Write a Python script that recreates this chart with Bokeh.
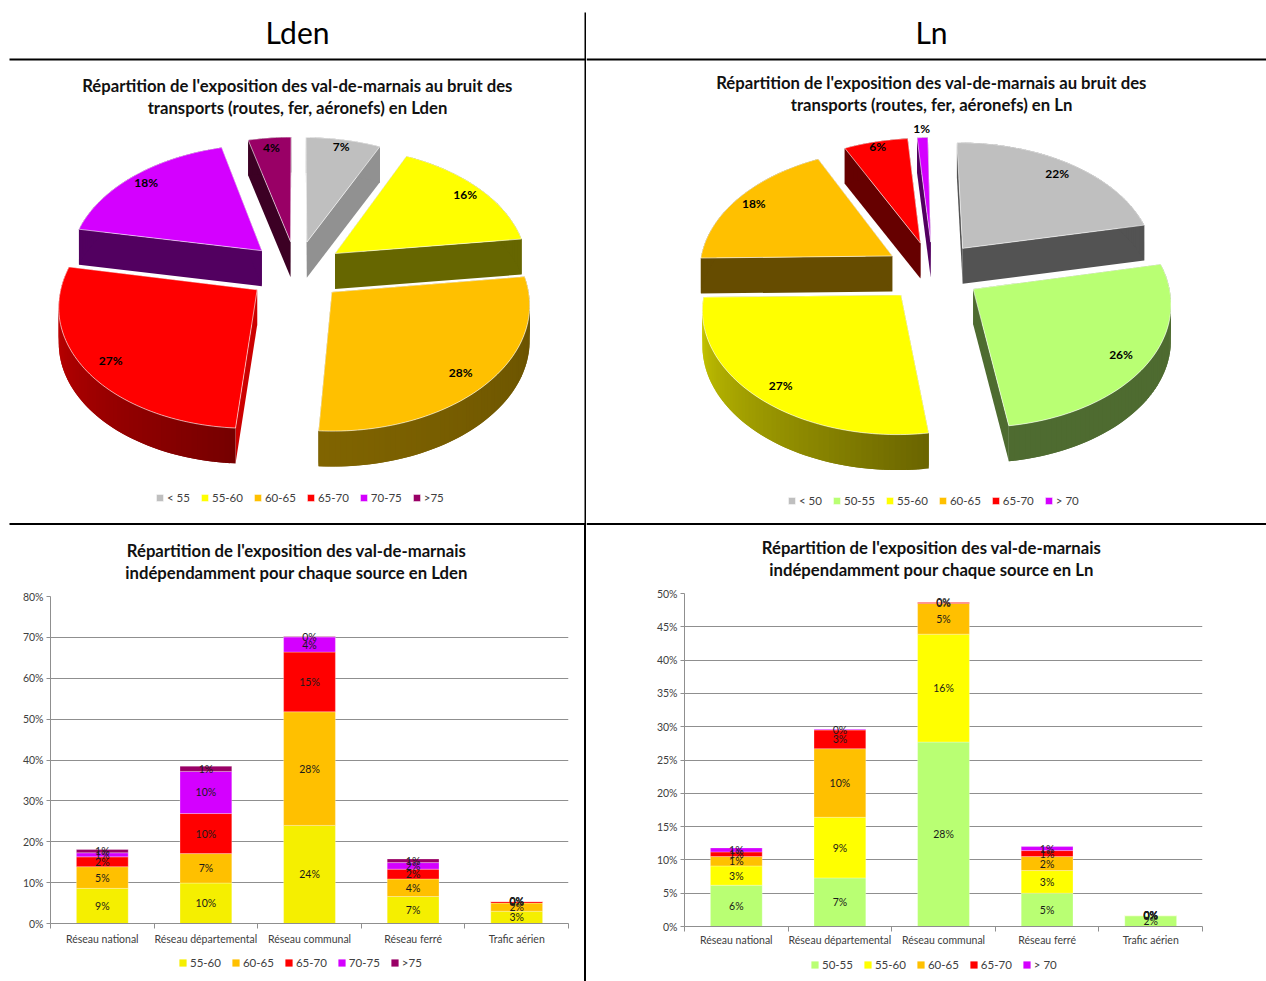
import math
import numpy as np
from bokeh.core.properties import value
from bokeh.embed import file_html
from bokeh.layouts import column, row
from bokeh.models import (Div, FixedTicker, Grid, Legend, LegendItem, LinearAxis,
                          PrintfTickFormatter, Range1d)
from bokeh.plotting import figure
from bokeh.resources import INLINE

# Pie shares, in percent
lden_pie_labels = ["< 55", "55-60", "60-65", "65-70", "70-75", ">75"]
lden_pie_values = [7, 16, 28, 27, 18, 4]
ln_pie_labels = ["< 50", "50-55", "55-60", "60-65", "65-70", "> 70"]
ln_pie_values = [22, 26, 27, 18, 6, 1]

# Stacked bars, in percent of the population
sources = ["Réseau national", "Réseau départemental", "Réseau communal", "Réseau ferré", "Trafic aérien"]
lden_55_60 = [8.6, 9.9, 24.0, 6.6, 3.0]
lden_60_65 = [5.3, 7.2, 27.8, 4.3, 2.0]
lden_65_70 = [2.4, 9.8, 14.6, 2.4, 0.4]
lden_70_75 = [1.0, 10.3, 3.7, 1.6, 0.0]
lden_over_75 = [0.8, 1.3, 0.1, 0.9, 0.0]
ln_50_55 = [6.2, 7.3, 27.7, 5.0, 1.6]
ln_55_60 = [2.9, 9.1, 16.2, 3.4, 0.1]
ln_60_65 = [1.4, 10.3, 4.6, 2.1, 0.0]
ln_65_70 = [0.7, 2.8, 0.2, 0.9, 0.0]
ln_over_70 = [0.6, 0.1, 0.0, 0.6, 0.0]

LDEN_PIE_TOP = ["#bfbfbf", "#ffff00", "#ffc000", "#ff0000", "#d400ff", "#990066"]
LDEN_PIE_EDGE = ["#919191", "#666600", "#665000", "#cc0000", "#520060", "#3c0024"]
LDEN_PIE_ARC = [("#919191", "#919191"), ("#666600", "#666600"), ("#665000", "#806400"),
                ("#760000", "#cc0000"), ("#520060", "#520060"), ("#3c0024", "#3c0024")]
LDEN_LABEL_R = [0.93, 0.9, 0.86, 0.87, 0.9, 0.9]
LDEN_LABEL_DA = [0, 0, 1.0, -0.2, 0, 0]

LN_PIE_TOP = ["#bfbfbf", "#b9ff73", "#ffff00", "#ffc000", "#ff0000", "#d400ff"]
LN_PIE_EDGE = ["#535353", "#4e6b30", "#666600", "#664c00", "#660000", "#520060"]
LN_PIE_ARC = [("#535353", "#535353"), ("#4e6b30", "#4e6b30"), ("#6b6500", "#cccc00"),
              ("#664c00", "#664c00"), ("#660000", "#660000"), ("#520060", "#520060")]
LN_LABEL_R = [0.88, 0.865, 0.874, 0.9, 0.95, 1.1]
LN_LABEL_DA = [-0.4, 0.4, -0.6, 0, 0, 0]

FONT = "Lato"
TEXT = "#111111"
AXIS_TEXT = "#404040"
GRID = "#8f8f8f"


def blend(c1, c2, t):
    a = [int(c1[i:i + 2], 16) for i in (1, 3, 5)]
    b = [int(c2[i:i + 2], 16) for i in (1, 3, 5)]
    return "#%02x%02x%02x" % tuple(round(x + (y - x) * t) for x, y in zip(a, b))


class Projection:
    """Perspective view of a tilted disc of radius 1, in page pixels."""

    def __init__(self, cx, cy, rotation, skew=0.0, w=193.5, h=120.7, k=0.1, depth=35.5):
        self.cx, self.cy, self.rotation, self.skew = cx, cy, math.radians(rotation), skew
        self.w, self.h, self.k, self.depth = w, h, k, depth

    def top(self, x, z):
        s = 1.0 / (1.0 - self.k * z)
        return self.cx + self.w * x * s - self.skew * max(z, 0.0), self.cy + self.h * z * s

    def bottom(self, x, z):
        qx, qy = self.top(x, z)
        return qx, qy + self.depth


def make_legend(p, items, x, y):
    legend = Legend(items=items, orientation="horizontal", location=(x, y),
                    border_line_color=None, background_fill_alpha=0, padding=0, margin=0, spacing=10,
                    glyph_width=9, glyph_height=9, label_standoff=3, label_height=10,
                    label_text_font=FONT, label_text_font_size="11.5px", label_text_color=AXIS_TEXT)
    p.add_layout(legend, "center")


def draw_pie(p, proj, labels, values, tops, edges, arcs, label_r, label_da, legend_x, legend_y):
    explode = 0.25
    total = sum(values)
    bounds = np.cumsum([0] + list(values)) / total * 2 * math.pi + proj.rotation
    mids = (bounds[:-1] + bounds[1:]) / 2
    order = sorted(range(len(values)), key=lambda i: -math.cos(mids[i]))
    top_renderers = {}
    for i in order:
        a0, a1, m = bounds[i], bounds[i + 1], mids[i]
        ox, oz = explode * math.sin(m), -explode * math.cos(m)
        ts = np.linspace(a0, a1, max(3, int((a1 - a0) * 40)))
        rim = [(ox + math.sin(t), oz - math.cos(t)) for t in ts]
        xs, ys, colors = [], [], []

        # Radial faces
        for (rx, rz) in (rim[0], rim[-1]):
            pts = [proj.top(ox, oz), proj.top(rx, rz), proj.bottom(rx, rz), proj.bottom(ox, oz)]
            xs.append([q[0] for q in pts])
            ys.append([q[1] for q in pts])
            colors.append(edges[i])

        # Outer face, shaded along the arc; each band runs over the next one to hide seams
        for j in range(len(rim) - 1):
            u, v = rim[j], rim[min(j + 2, len(rim) - 1)]
            pts = [proj.top(*u), proj.top(*v), proj.bottom(*v), proj.bottom(*u)]
            xs.append([q[0] for q in pts])
            ys.append([q[1] for q in pts])
            colors.append(blend(arcs[i][0], arcs[i][1], j / max(1, len(rim) - 2)))
        p.patches(xs, ys, fill_color=colors, line_color=None)

        # Top face
        outline = [proj.top(ox, oz)] + [proj.top(*q) for q in rim]
        top_renderers[i] = p.patch([q[0] for q in outline], [q[1] for q in outline],
                                   fill_color=tops[i], line_color="#ffffff", line_alpha=0.6, line_width=1)

    # Percent labels on the slices
    lx, ly, lt = [], [], []
    for i, v in enumerate(values):
        a = mids[i] + math.radians(label_da[i])
        r = label_r[i] + explode
        qx, qy = proj.top(r * math.sin(a), -r * math.cos(a))
        lx.append(qx)
        ly.append(qy)
        lt.append(f"{v}%")
    p.text(lx, ly, text=lt, text_font=value(FONT), text_font_style="bold", text_font_size="12px",
           text_color="#000000", text_align="center", text_baseline="middle")

    items = [LegendItem(label=labels[i], renderers=[top_renderers[i]]) for i in range(len(labels))]
    make_legend(p, items, legend_x, legend_y)


def pie_cell(x0, x1, height, header, header_x, title_lines, title_y, proj, labels, values, tops, edges, arcs,
             label_r, label_da, legend_x, legend_y):
    p = figure(width=x1 - x0, height=height, x_range=Range1d(x0, x1), y_range=Range1d(height, 0),
               output_backend="svg", toolbar_location=None, min_border=0)
    p.axis.visible = False
    p.grid.visible = False
    p.outline_line_color = None

    # Rules framing the cell
    p.segment([max(x0, 9)], [59], [x1], [59], line_color="#000000", line_width=2)
    p.segment([max(x0, 9)], [height - 1.5], [x1], [height - 1.5], line_color="#000000", line_width=2)
    if x0 == 0:
        p.segment([x1 - 1], [12], [x1 - 1], [height], line_color="#000000", line_width=2)

    p.text([header_x], [31], text=[header], text_font=value(FONT), text_font_size="30px", text_color="#000000",
           text_align="center", text_baseline="middle")
    p.text([header_x] * 2, title_y, text=title_lines, text_font=value(FONT), text_font_style="bold",
           text_font_size="16.7px", text_color=TEXT, text_align="center", text_baseline="middle")
    draw_pie(p, proj, labels, values, tops, edges, arcs, label_r, label_da, legend_x, legend_y)
    return p


def title_cell(width, height, left, right, lines, x, ys):
    p = figure(width=width, height=height, x_range=Range1d(left, width - right), y_range=Range1d(height, 0),
               output_backend="svg", toolbar_location=None, min_border=0,
               min_border_left=left, min_border_right=right)
    p.axis.visible = False
    p.grid.visible = False
    p.outline_line_color = None
    p.text([x] * len(lines), ys, text=lines, text_font=value(FONT), text_font_style="bold",
           text_font_size="16.7px", text_color=TEXT, text_align="center", text_baseline="middle")
    return p


def bar_cell(width, height, left, right, bottom, ymax, ystep, standoff, series, names, colors):
    p = figure(width=width, height=height, x_range=Range1d(-0.5, 4.5), y_range=Range1d(0, ymax),
               output_backend="svg", toolbar_location=None, min_border_left=left, min_border_right=right,
               min_border_top=10, min_border_bottom=bottom, x_axis_type=None, y_axis_type=None)
    p.outline_line_color = None

    yaxis = LinearAxis(ticker=FixedTicker(ticks=list(range(0, ymax + 1, ystep))),
                       formatter=PrintfTickFormatter(format="%d%%"))
    yaxis.axis_line_color = GRID
    yaxis.major_tick_line_color = GRID
    yaxis.major_tick_in = 0
    yaxis.major_tick_out = 4
    yaxis.minor_tick_line_color = None
    yaxis.major_label_text_font = FONT
    yaxis.major_label_text_font_size = "10.5px"
    yaxis.major_label_text_color = AXIS_TEXT
    yaxis.major_label_standoff = 3
    p.add_layout(yaxis, "left")

    xaxis = LinearAxis(ticker=FixedTicker(ticks=list(range(len(sources))),
                                          minor_ticks=[i - 0.5 for i in range(len(sources) + 1)]),
                       major_label_overrides={i: s for i, s in enumerate(sources)})
    xaxis.axis_line_color = GRID
    xaxis.major_tick_line_color = None
    xaxis.minor_tick_line_color = GRID
    xaxis.minor_tick_in = 0
    xaxis.minor_tick_out = 5
    xaxis.major_label_text_font = FONT
    xaxis.major_label_text_font_size = "10.5px"
    xaxis.major_label_text_color = AXIS_TEXT
    xaxis.major_label_standoff = standoff
    p.add_layout(xaxis, "below")

    p.add_layout(Grid(dimension=1, ticker=FixedTicker(ticks=list(range(ystep, ymax + 1, ystep))),
                      grid_line_color=GRID, grid_line_width=1))

    xs = np.arange(len(sources))
    base = np.zeros(len(sources))
    tx, ty, tt = [], [], []
    for vals, name, color in zip(series, names, colors):
        vals = np.array(vals)
        p.vbar(x=xs, bottom=base, top=base + vals, width=0.5, fill_color=color,
               line_color="#ffffff", line_alpha=0.35, line_width=0.8)
        tx += list(xs)
        ty += list(base + vals / 2)
        tt += [f"{int(v + 0.5)}%" for v in vals]
        base = base + vals
    p.text(tx, ty, text=tt, text_font=value(FONT), text_font_size="10.5px", text_color="#1a1a1a",
           text_align="center", text_baseline="middle")
    return p


def legend_cell(width, height, left, right, names, colors, x, y):
    p = figure(width=width, height=height, x_range=Range1d(0, 1), y_range=Range1d(0, 1),
               output_backend="svg", toolbar_location=None, min_border=0,
               min_border_left=left, min_border_right=right)
    p.axis.visible = False
    p.grid.visible = False
    p.outline_line_color = None
    items = []
    for name, color in zip(names, colors):
        # Key swatches only: the glyph sits outside the visible range
        r = p.vbar(x=[-5], top=[-5], bottom=[-6], width=0.5, fill_color=color, line_color=None)
        items.append(LegendItem(label=name, renderers=[r]))
    make_legend(p, items, x, y)
    return p


TOP_H = 525
BOTTOM_H = 456

lden_pie = pie_cell(0, 586, TOP_H, "Lden", 297,
                    ["Répartition de l'exposition des val-de-marnais au bruit des",
                     "transports (routes, fer, aéronefs) en Lden"], [85, 107],
                    Projection(296, 270.5, 0, skew=3.5), lden_pie_labels, lden_pie_values, LDEN_PIE_TOP, LDEN_PIE_EDGE,
                    LDEN_PIE_ARC, LDEN_LABEL_R, LDEN_LABEL_DA, 155, 21)
ln_pie = pie_cell(586, 1266, TOP_H, "Ln", 931,
                  ["Répartition de l'exposition des val-de-marnais au bruit des",
                   "transports (routes, fer, aéronefs) en Ln"], [82, 104],
                  Projection(932.5, 271, -1), ln_pie_labels, ln_pie_values, LN_PIE_TOP, LN_PIE_EDGE,
                  LN_PIE_ARC, LN_LABEL_R, LN_LABEL_DA, 201, 18)

lden_names = ["55-60", "60-65", "65-70", "70-75", ">75"]
lden_colors = ["#f5ef00", "#ffc000", "#ff0000", "#d400ff", "#990066"]
ln_names = ["50-55", "55-60", "60-65", "65-70", "> 70"]
ln_colors = ["#b9ff73", "#ffff00", "#ffc000", "#ff0000", "#d400ff"]

LDEN_LEFT, LDEN_RIGHT = 50, 16
LN_LEFT, LN_RIGHT = 98, 64

# Left column: title strip, chart, legend strip
lden_column = column(
    title_cell(584, 596 - TOP_H - 10, LDEN_LEFT, LDEN_RIGHT,
               ["Répartition de l'exposition des val-de-marnais",
                "indépendamment pour chaque source en Lden"], 296, [25, 47]),
    bar_cell(584, 923 - 586 + 30, LDEN_LEFT, LDEN_RIGHT, 30, 80, 10, 3,
             [lden_55_60, lden_60_65, lden_65_70, lden_70_75, lden_over_75], lden_names, lden_colors),
    legend_cell(584, 28, LDEN_LEFT, LDEN_RIGHT, lden_names, lden_colors, 178 - LDEN_LEFT, 12),
    spacing=0)

separator = Div(width=2, height=BOTTOM_H, margin=0, styles={"background-color": "#000000"})

# Right column
ln_column = column(
    title_cell(680, 593 - TOP_H - 10, LN_LEFT, LN_RIGHT,
               ["Répartition de l'exposition des val-de-marnais",
                "indépendamment pour chaque source en Ln"], 345, [22, 44]),
    bar_cell(680, 926 - 583 + 30, LN_LEFT, LN_RIGHT, 30, 50, 5, 1,
             [ln_50_55, ln_55_60, ln_60_65, ln_65_70, ln_over_70], ln_names, ln_colors),
    legend_cell(680, 25, LN_LEFT, LN_RIGHT, ln_names, ln_colors, 810 - 586 - LN_LEFT, 10),
    spacing=0)

page = column(row(lden_pie, ln_pie, spacing=0), row(lden_column, separator, ln_column, spacing=0), spacing=0)
open("out.html", "w").write(file_html(page, INLINE))
